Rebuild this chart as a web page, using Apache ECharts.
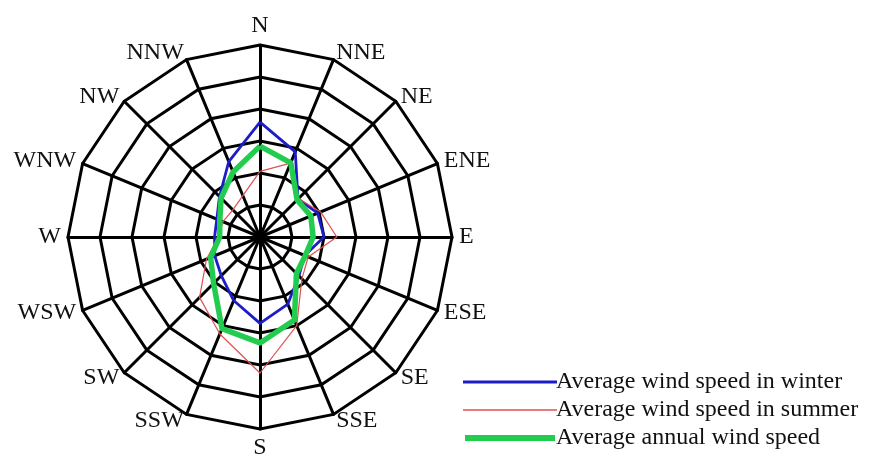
<!DOCTYPE html>
<html>
<head>
<meta charset="utf-8">
<script src="https://cdn.jsdelivr.net/npm/echarts@6/dist/echarts.min.js"></script>
<style>
html,body{margin:0;padding:0;background:#fff;}
#c{width:873px;height:461px;}
</style>
</head>
<body>
<div id="c"></div>
<script>
// Directions in clockwise compass order starting at North
var directions = ['N','NNE','NE','ENE','E','ESE','SE','SSE','S','SSW','SW','WSW','W','WNW','NW','NNW'];
// Values in ring units (rings 0..6)
var winter = [3.59, 2.88, 1.68, 1.95, 2.0, 1.51, 1.72, 2.27, 2.7, 2.15, 1.71, 1.53, 1.42, 1.46, 1.79, 2.55];
var summer = [2.05, 2.5, 1.7, 2.05, 2.4, 1.63, 1.85, 3.0, 4.25, 3.28, 2.67, 1.81, 1.3, 1.25, 1.2, 1.4];
var annual = [2.84, 2.51, 1.64, 1.72, 1.66, 1.53, 1.61, 2.81, 3.31, 3.1, 2.05, 1.67, 1.26, 1.36, 1.72, 2.2];
var seriesNames = ['Average wind speed in winter', 'Average wind speed in summer', 'Average annual wind speed'];
var ringMax = 6;

// ECharts radar lays indicators out counterclockwise; reorder so the compass runs clockwise
var order = [0];
for (var i = directions.length - 1; i >= 1; i--) order.push(i);
function reorder(arr) { return order.map(function (k) { return arr[k]; }); }

var chart = echarts.init(document.getElementById('c'), null, {renderer: 'canvas'});
var font = '"Liberation Serif", "DejaVu Serif", serif';
var colors = ['#1c1cc8', '#e05050', '#22cc4e'];
var widths = [2.8, 1.2, 5.5];

chart.setOption({
  backgroundColor: '#ffffff',
  animation: false,
  legend: {
    orient: 'vertical',
    left: 458,
    top: 364,
    itemWidth: 94,
    itemHeight: 6,
    itemGap: 2,
    textStyle: {fontFamily: font, fontSize: 24, color: '#111', lineHeight: 26, padding: [0, 0, 0, -6]},
    data: [
      {name: seriesNames[0], icon: 'path://M0,0H90V2.8H0Z', itemStyle: {color: colors[0]}},
      {name: seriesNames[1], icon: 'path://M0,0H90V1.3H0Z', itemStyle: {color: colors[1]}},
      {name: seriesNames[2], icon: 'path://M0,0H90V6H0Z', itemStyle: {color: colors[2]}}
    ]
  },
  radar: {
    center: [260, 237],
    radius: 192,
    shape: 'polygon',
    splitNumber: 6,
    startAngle: 90,
    indicator: reorder(directions).map(function (d) { return {name: d, min: 0, max: ringMax}; }),
    axisName: {fontFamily: font, fontSize: 24, color: '#111'},
    nameGap: 7,
    axisLine: {lineStyle: {color: '#000', width: 3}},
    splitLine: {lineStyle: {color: '#000', width: 3}},
    splitArea: {show: false},
    axisTick: {show: false},
    axisLabel: {show: false}
  },
  series: [{
    type: 'radar',
    symbol: 'none',
    data: [
      {name: seriesNames[0], value: reorder(winter), lineStyle: {color: colors[0], width: widths[0]}, itemStyle: {color: colors[0]}},
      {name: seriesNames[1], value: reorder(summer), lineStyle: {color: colors[1], width: widths[1]}, itemStyle: {color: colors[1]}},
      {name: seriesNames[2], value: reorder(annual), lineStyle: {color: colors[2], width: widths[2]}, itemStyle: {color: colors[2]}}
    ]
  }]
});
</script>
</body>
</html>
